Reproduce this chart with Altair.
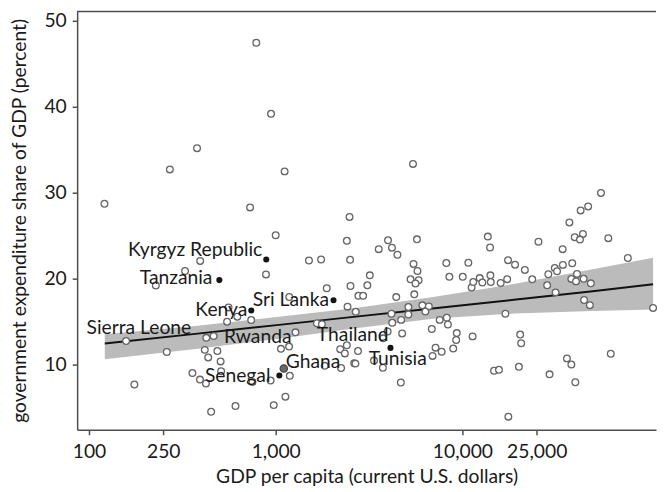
import altair as alt
import pandas as pd

FONT = "Lato"

# ---- unlabeled countries: GDP per capita (US$) and government expenditure share (%)
gdp = [787, 944, 379, 271, 1116, 121, 729, 2485, 1000, 2404, 5437, 55240, 47160, 42980,
       37410, 44220, 39960, 42620, 60460, 13680, 25550, 3996, 5710, 394, 1507, 1751, 2503,
       327, 887, 228, 1877, 2515, 1182, 2425, 559, 623, 739, 549, 1662, 1768, 425, 465,
       261, 417, 487, 435, 507, 1067, 1179, 2404, 2216, 2346, 2634, 1830, 2240, 358, 393,
       423, 510, 751, 939, 1190, 175, 1127, 609, 976, 451, 3563, 4195, 4486, 5471, 5746,
       3193, 5274, 5829, 5608, 3097, 8200, 8515, 10040, 10760, 2773, 2940, 4422, 5524,
       2683, 5135, 5135, 6105, 6609, 6333, 4169, 4699, 4210, 3759, 4755, 7555, 8248, 8360,
       6855, 9328, 9261, 2759, 2673, 3361, 3751, 7180, 7743, 6921, 8929, 4681, 11340,
       11200, 11430, 12380, 12790, 14120, 14190, 16030, 17370, 14060, 17560, 19140, 21600,
       23660, 16990, 20390, 20640, 20070, 14770, 15700, 17620, 29290, 36290, 38330, 40260,
       62330, 34430, 28860, 31240, 32130, 34520, 38750, 28440, 31550, 38330, 40600, 41100,
       44600, 48730, 44870, 48140, 76940, 105000]
share = [47.45, 39.18, 35.18, 32.71, 32.48, 28.71, 28.29, 27.18, 25.05, 24.4, 33.35, 29.97,
         28.4, 27.94, 26.54, 25.2, 24.82, 24.54, 24.71, 24.89, 24.29, 24.46, 24.57, 22.06,
         22.11, 22.23, 22.19, 20.89, 20.49, 19.2, 18.88, 19.14, 17.86, 16.74, 16.65, 15.57,
         15.18, 14.99, 14.8, 14.69, 13.11, 13.31, 11.46, 11.71, 11.57, 10.83, 10.37, 11.83,
         12.09, 12.24, 11.79, 11.3, 10.14, 9.85, 9.6, 9.01, 8.25, 7.79, 9.23, 7.98, 8.14,
         8.69, 7.68, 6.26, 5.17, 5.28, 4.51, 23.43, 23.6, 22.78, 21.71, 20.89, 20.38, 19.92,
         19.81, 19.43, 19.22, 21.81, 20.21, 20.21, 21.85, 18.0, 18.0, 17.85, 18.17, 16.14,
         16.69, 15.83, 16.89, 16.77, 16.17, 15.91, 15.2, 14.86, 13.05, 13.62, 15.2, 15.45,
         14.66, 14.14, 13.66, 12.86, 11.57, 10.11, 10.46, 9.63, 11.97, 11.49, 11.01, 11.86,
         7.91, 13.28, 18.97, 19.6, 20.06, 19.54, 20.38, 19.6, 19.49, 19.94, 23.62, 22.15,
         21.62, 21.01, 19.92, 15.91, 13.49, 12.48, 9.74, 9.28, 9.39, 3.94, 8.86, 10.72,
         10.0, 7.94, 11.26, 23.43, 20.51, 21.23, 20.86, 21.6, 21.79, 19.22, 18.4, 19.97,
         19.68, 20.55, 19.98, 19.45, 17.51, 16.91, 22.4, 16.59]

# ---- labeled countries
label_country = ["Kyrgyz Republic", "Tanzania", "Kenya", "Sri Lanka", "Sierra Leone",
                 "Rwanda", "Thailand", "Ghana", "Senegal", "Tunisia"]
label_gdp = [890, 499, 740, 2040, 158, 1276, 3977, 1105, 1046, 4119]
label_share = [22.23, 19.83, 16.29, 17.49, 12.74, 13.75, 13.85, 9.54, 8.72, 11.94]
label_marker = ["black", "black", "black", "black", "open", "open", "open", "gray",
                "black", "black"]

# ---- fitted line and confidence band
fit_gdp = [121.5, 382, 1012, 2683, 7112, 18850, 49900, 105000]
fit_share = [12.46, 13.6, 14.59, 15.58, 16.56, 17.54, 18.53, 19.34]
ci_upper = [13.54, 14.51, 15.54, 16.57, 17.89, 19.37, 21.09, 22.43]
ci_lower = [10.63, 11.83, 12.97, 14.23, 15.37, 15.94, 16.23, 16.4]

x_ticks = [100, 250, 1000, 10000, 25000]
y_ticks = [10, 20, 30, 40, 50]

# label placement (layout only)
LABEL_LAYOUT = {
    "Kyrgyz Republic": ("right", -4, -10),
    "Tanzania": ("right", -7, -2.5),
    "Kenya": ("right", -4, 0),
    "Sri Lanka": ("right", -4.5, 0),
    "Sierra Leone": ("center", 13, -12.7),
    "Rwanda": ("right", -4, 5),
    "Thailand": ("right", 1, 4),
    "Ghana": ("left", 2, -7),
    "Senegal": ("right", -9, 1),
    "Tunisia": ("left", -22, 11),
}

FS = 19.5

pts = pd.DataFrame({"gdp": gdp, "share": share})
lab = pd.DataFrame({"country": label_country, "gdp": label_gdp,
                    "share": label_share, "marker": label_marker})
fit = pd.DataFrame({"gdp": fit_gdp, "fit": fit_share, "lo": ci_lower, "hi": ci_upper})

W, H = 586, 424
xscale = alt.Scale(type="log", domain=[86.4, 108900], nice=False)
yscale = alt.Scale(domain=[2.41, 51.15], nice=False, zero=False)
xaxis = alt.Axis(values=x_ticks, format=",", title="GDP per capita (current U.S. dollars)",
                 grid=False, labelFlush=False, labelOverlap=False, labelPadding=8,
                 titleY=47, titleBaseline="middle")
yaxis = alt.Axis(values=y_ticks, title="government expenditure share of GDP (percent)",
                 grid=False, labelPadding=6, labelOverlap=False, titleX=-58,
                 titleBaseline="middle")

X = alt.X("gdp:Q", scale=xscale, axis=xaxis)


def Y(field):
    return alt.Y(field, scale=yscale, axis=yaxis)


band = alt.Chart(fit).mark_area(color="#bbbbbb", opacity=1).encode(
    x=X, y=Y("lo:Q"), y2="hi:Q")
line = alt.Chart(fit).mark_line(color="#111111", strokeWidth=2).encode(
    x=X, y=Y("fit:Q"))
open_pts = alt.Chart(pts).mark_circle(
    fill="white", fillOpacity=1, stroke="#666666", strokeWidth=1.3, size=46, opacity=1
).encode(x=X, y=Y("share:Q"))
lab_open = alt.Chart(lab).transform_filter(alt.datum.marker == "open").mark_circle(
    fill="white", fillOpacity=1, stroke="#666666", strokeWidth=1.3, size=46, opacity=1
).encode(x=X, y=Y("share:Q"))
lab_black = alt.Chart(lab).transform_filter(alt.datum.marker == "black").mark_circle(
    color="#141414", size=38, opacity=1
).encode(x=X, y=Y("share:Q"))
lab_gray = alt.Chart(lab).transform_filter(alt.datum.marker == "gray").mark_circle(
    fill="#6a6a6a", fillOpacity=1, stroke="#444444", strokeWidth=1.2, size=55, opacity=1
).encode(x=X, y=Y("share:Q"))

texts = []
for name in label_country:
    align, dx, dy = LABEL_LAYOUT[name]
    texts.append(
        alt.Chart(lab).transform_filter(alt.datum.country == name).mark_text(
            align=align, baseline="middle", dx=dx, dy=dy, font=FONT, fontSize=FS,
            color="#1a1a1a"
        ).encode(x=X, y=Y("share:Q"), text="country:N")
    )

top_border = alt.Chart(pd.DataFrame({"k": [0]})).mark_rule(
    color="#4d4d4d", strokeWidth=1.5
).encode(x=alt.value(0), x2=alt.value(W), y=alt.value(0.5))

chart = alt.layer(band, line, open_pts, lab_open, lab_gray, lab_black, *texts, top_border).properties(
    width=W, height=H,
    autosize=alt.AutoSizeParams(type="none"),
    padding={"left": 70, "top": 0, "right": 2, "bottom": 60},
).configure_view(stroke=None).configure_axis(
    domainColor="#4d4d4d", domainWidth=1.5, tickColor="#4d4d4d", tickWidth=1.5,
    tickSize=5, labelFont=FONT, labelFontSize=FS, labelColor="#1a1a1a",
    titleFont=FONT, titleFontSize=FS, titleFontWeight="normal", titleColor="#1a1a1a",
)

chart.save("out.html", embed_options={"renderer": "svg", "actions": False})
